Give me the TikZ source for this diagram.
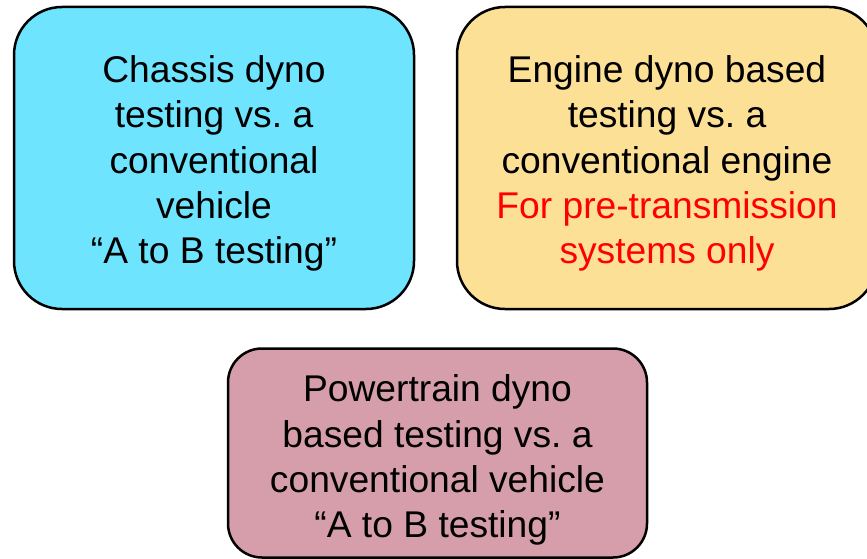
\documentclass[tikz,border=0pt]{standalone}
\usepackage{fontspec}
\setmainfont{Liberation Sans}
\frenchspacing
\definecolor{boxcyan}{RGB}{110,228,255}
\definecolor{boxorange}{RGB}{252,224,150}
\definecolor{boxpink}{RGB}{214,158,170}
\definecolor{txtred}{RGB}{255,0,0}
\tikzset{
  card/.style={draw=black, line width=2.5pt, rounded corners=48pt, inner sep=0pt},
  cardtext/.style={align=center, font=\fontsize{37.2}{45.2}\selectfont, inner sep=0pt},
}
\begin{document}
\begin{tikzpicture}[x=1pt,y=-1pt]
\useasboundingbox (0,0) rectangle (867,559);
\node[card, fill=boxcyan, minimum width=400pt, minimum height=302pt] (chassis) at (214,158) {};
\node[cardtext] (chassistext) at ([yshift=-5.5pt]chassis.center)
  {Chassis dyno\\testing vs. a\\conventional\\vehicle\\“A to B testing”};
\node[card, fill=boxorange, minimum width=420pt, minimum height=302pt] (engine) at (667,158) {};
\node[cardtext] (enginetext) at ([yshift=-5.5pt]engine.center)
  {Engine dyno based\\testing vs. a\\conventional engine\\\textcolor{txtred}{For pre-transmission}\\\textcolor{txtred}{systems only}};
\node[card, rounded corners=34pt, fill=boxpink, minimum width=419pt, minimum height=209pt] (powertrain) at (437.5,453) {};
\node[cardtext] (powertraintext) at ([yshift=-7pt]powertrain.center)
  {Powertrain dyno\\based testing vs. a\\conventional vehicle\\“A to B testing”};
\end{tikzpicture}
\end{document}
